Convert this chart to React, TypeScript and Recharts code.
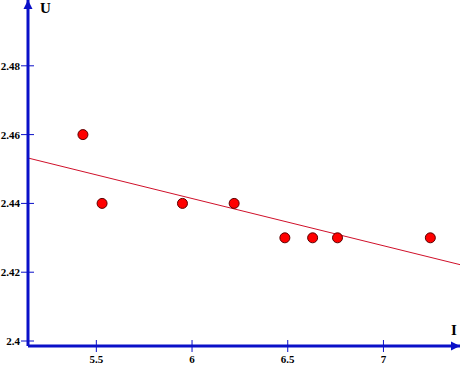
import React from 'react';
import { ScatterChart, Scatter, XAxis, YAxis, ReferenceLine } from 'recharts';

// measured points (I, U)
const currentI = [5.43, 5.53, 5.95, 6.22, 6.485, 6.63, 6.76, 7.245];
const voltageU = [2.46, 2.44, 2.44, 2.44, 2.43, 2.43, 2.43, 2.43];

// fitted line (ends)
const fitI = [5.143, 7.4];
const fitU = [2.4532, 2.4222];

const xTicks = [5.5, 6, 6.5, 7];
const yTicks = [2.4, 2.42, 2.44, 2.46, 2.48];

const points = currentI.map((x, i) => ({ x, y: voltageU[i] }));

const BLUE = '#0a10c8';
const tickFont = { fontFamily: 'Liberation Serif', fontWeight: 'bold', fontSize: 11 };

const XTick = (props: any) => {
  const { x, y, payload } = props;
  return (
    <g>
      <line x1={x} x2={x} y1={y - 6} y2={y + 6} stroke={BLUE} strokeWidth={1} />
      <text x={x} y={y + 17} textAnchor="middle" fill="#000" style={tickFont}>
        {payload.value}
      </text>
    </g>
  );
};

const YTick = (props: any) => {
  const { x, y, payload } = props;
  return (
    <g>
      <line x1={x - 7} x2={x + 6} y1={y} y2={y} stroke={BLUE} strokeWidth={1} />
      <text x={x - 8} y={y + 4} textAnchor="end" fill="#000" style={tickFont}>
        {payload.value}
      </text>
    </g>
  );
};

export default function App() {
  return (
    <div style={{ position: 'absolute', left: 0, top: 0, width: 461, height: 371, background: '#fff' }}>
      <ScatterChart width={461} height={371} margin={{ top: 0, right: 1, left: 0, bottom: 0 }}>
        <defs>
          <marker id="arrowHead" viewBox="0 0 10 10" refX="10" refY="5" markerWidth="9" markerHeight="11"
            markerUnits="userSpaceOnUse" orient="auto-start-reverse">
            <path d="M0,0 L10,5 L0,10 z" fill={BLUE} />
          </marker>
        </defs>
        <XAxis
          type="number"
          dataKey="x"
          domain={[5.143, 7.4]}
          ticks={xTicks}
          height={25}
          tickSize={0}
          tickMargin={0}
          tickLine={false}
          axisLine={{ stroke: BLUE, strokeWidth: 3, markerEnd: 'url(#arrowHead)' }}
          tick={<XTick />}
          allowDataOverflow
          interval={0}
        />
        <YAxis
          type="number"
          dataKey="y"
          domain={[2.39855, 2.49913]}
          ticks={yTicks}
          width={28}
          tickSize={0}
          tickMargin={0}
          tickLine={false}
          axisLine={{ stroke: BLUE, strokeWidth: 3, markerStart: 'url(#arrowHead)' }}
          tick={<YTick />}
          allowDataOverflow
          interval={0}
        />
        <ReferenceLine
          segment={[{ x: fitI[0], y: fitU[0] }, { x: fitI[1], y: fitU[1] }]}
          stroke="#d0102a"
          strokeWidth={1}
          ifOverflow="visible"
        />
        <Scatter
          data={points}
          fill="#ff0000"
          stroke="#5a0000"
          strokeWidth={1}
          isAnimationActive={false}
          shape={(p: any) => <circle cx={p.cx} cy={p.cy} r={5} fill="#ff0000" stroke="#5a0000" strokeWidth={1} />}
        />
        <text x={40} y={13} style={{ fontFamily: 'Liberation Serif', fontWeight: 'bold', fontSize: 15 }} fill="#000">U</text>
        <text x={451} y={335} style={{ fontFamily: 'Liberation Serif', fontWeight: 'bold', fontSize: 15 }} fill="#000">I</text>
      </ScatterChart>
    </div>
  );
}
